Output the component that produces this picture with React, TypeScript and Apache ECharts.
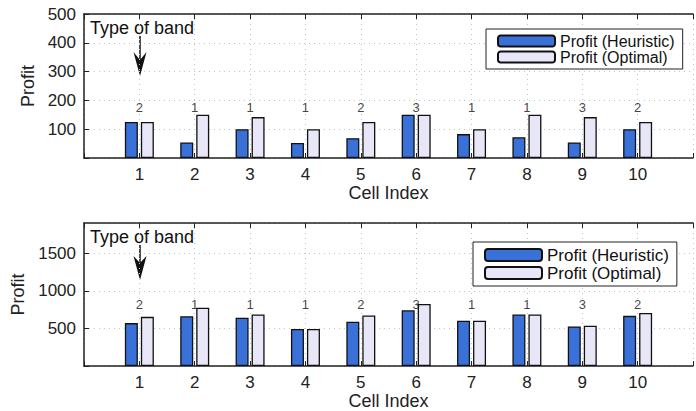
import React, { useEffect, useRef } from 'react';
import * as echarts from 'echarts';

const cells = [1, 2, 3, 4, 5, 6, 7, 8, 9, 10];
const bandType = [2, 1, 1, 1, 2, 3, 1, 1, 3, 2];
const heuristicTop = [125, 54, 100, 52, 69, 150, 83, 72, 54, 100];
const optimalTop = [125, 150, 142, 100, 125, 150, 100, 150, 142, 125];
const heuristicBottom = [571, 662, 641, 492, 589, 741, 602, 685, 527, 667];
const optimalBottom = [654, 776, 685, 492, 671, 825, 602, 685, 536, 706];
const yTicksTop = [100, 200, 300, 400, 500];
const yTicksBottom = [500, 1000, 1500];

const FONT = 'Liberation Sans, Arial, sans-serif';
const BLUE = '#3a71d9';
const LAV = '#e8e7f7';
const NAME_H = 'Profit (Heuristic)';
const NAME_O = 'Profit (Optimal)';

function xAxes(gridIndex: number) {
  return [
    {
      type: 'value', gridIndex, min: 0, max: 11, interval: 1,
      name: 'Cell Index', nameLocation: 'middle', nameGap: 25,
      nameTextStyle: { fontFamily: FONT, fontSize: 18, color: '#222' },
      axisLine: { show: true, lineStyle: { color: '#222', width: 1.5 } },
      axisTick: { show: true, inside: true, length: 5, lineStyle: { color: '#222' } },
      axisLabel: {
        fontFamily: FONT, fontSize: 17, color: '#222', margin: 8,
        formatter: (v: number) => (cells.includes(v) ? String(v) : ''),
      },
      splitLine: { show: true, lineStyle: { color: '#c4c4c4', type: [1, 4] } },
    },
    {
      type: 'value', gridIndex, min: 0, max: 11, interval: 1, position: 'top',
      axisLine: { show: true, lineStyle: { color: '#222', width: 1.5 } },
      axisTick: { show: true, inside: true, length: 5, lineStyle: { color: '#222' } },
      axisLabel: { show: false },
      splitLine: { show: false },
    },
  ];
}

function yAxis(gridIndex: number, max: number, interval: number, ticks: number[], gap: number) {
  return {
    type: 'value', gridIndex, min: 0, max, interval,
    name: 'Profit', nameLocation: 'middle', nameGap: gap, nameRotate: 90,
    nameTextStyle: { fontFamily: FONT, fontSize: 18, color: '#222' },
    axisLine: { show: true, lineStyle: { color: '#222', width: 1.5 } },
    axisTick: { show: true, inside: true, length: 5, lineStyle: { color: '#222' } },
    axisLabel: {
      fontFamily: FONT, fontSize: 17, color: '#222', margin: 8,
      showMaxLabel: ticks.includes(max),
      formatter: (v: number) => (ticks.includes(v) ? String(v) : ''),
    },
    splitLine: { show: true, lineStyle: { color: '#c4c4c4', type: [1, 4] } },
  };
}

function barSeries(name: string, values: number[], color: string, axisIdx: number) {
  return {
    type: 'bar', name, xAxisIndex: axisIdx * 2, yAxisIndex: axisIdx,
    data: cells.map((c, i) => [c, values[i]]),
    barWidth: 13, barGap: '23%',
    itemStyle: { color, borderColor: '#111', borderWidth: 1.3 },
  };
}

function labelSeries(axisIdx: number, yPos: number) {
  return {
    type: 'scatter', xAxisIndex: axisIdx * 2, yAxisIndex: axisIdx,
    data: cells.map((c) => [c, yPos]),
    symbolSize: 0, itemStyle: { color: '#111' }, silent: true,
    label: {
      show: true, position: 'top', distance: 0, verticalAlign: 'middle', align: 'center',
      fontFamily: FONT, fontSize: 13, color: '#111', textBorderWidth: 0,
      formatter: (p: any) => String(bandType[p.dataIndex]),
    },
  };
}

function legend(top: number, left: number, fontSize: number, itemHeight: number, lh: number) {
  return {
    data: [NAME_H, NAME_O], orient: 'vertical', top, left,
    itemWidth: 57, itemHeight, itemGap: 0,
    borderColor: '#222', borderWidth: 1, padding: [4, 8, 4, 11],
    backgroundColor: '#fff',
    textStyle: { fontFamily: FONT, fontSize, color: '#111', lineHeight: lh },
  };
}

function arrow(yStart: number, tipY: number, headY: number, notchY: number, textY: number) {
  return [
    {
      type: 'text', left: 90, top: textY,
      style: { text: 'Type of band', fontFamily: FONT, fontSize: 18, fill: '#111' },
    },
    { type: 'line', shape: { x1: 140, y1: yStart, x2: 140, y2: notchY }, style: { stroke: '#111', lineWidth: 1.5 } },
    {
      type: 'polygon',
      shape: { points: [[133.5, headY], [140, tipY], [146.5, headY], [140, notchY]] },
      style: { fill: '#111' },
    },
  ];
}

export default function App() {
  const ref = useRef<HTMLDivElement>(null);
  useEffect(() => {
    const chart = echarts.init(ref.current!, undefined, { renderer: 'svg' });
    chart.setOption({
      animation: false,
      backgroundColor: '#fff',
      grid: [
        { left: 84, top: 14, width: 619, height: 144, show: false },
        { left: 84, top: 223, width: 619, height: 145, show: false },
      ],
      xAxis: [...xAxes(0), ...xAxes(1)],
      yAxis: [yAxis(0, 500, 100, yTicksTop, 46), yAxis(1, 1900, 500, yTicksBottom, 55)],
      legend: [legend(29, 486, 16, 11, 16), legend(242, 473, 17, 12, 18)],
      series: [
        barSeries(NAME_H, heuristicTop, BLUE, 0),
        barSeries(NAME_O, optimalTop, LAV, 0),
        labelSeries(0, 174),
        barSeries(NAME_H, heuristicBottom, BLUE, 1),
        barSeries(NAME_O, optimalBottom, LAV, 1),
        labelSeries(1, 815),
      ],
      graphic: [...arrow(36, 76, 52, 60, 19), ...arrow(245, 280, 256, 263, 228)],
    });
    return () => chart.dispose();
  }, []);
  return (
    <div
      ref={ref}
      style={{ position: 'fixed', left: 0, top: 0, width: 696, height: 411, background: '#fff' }}
    />
  );
}
